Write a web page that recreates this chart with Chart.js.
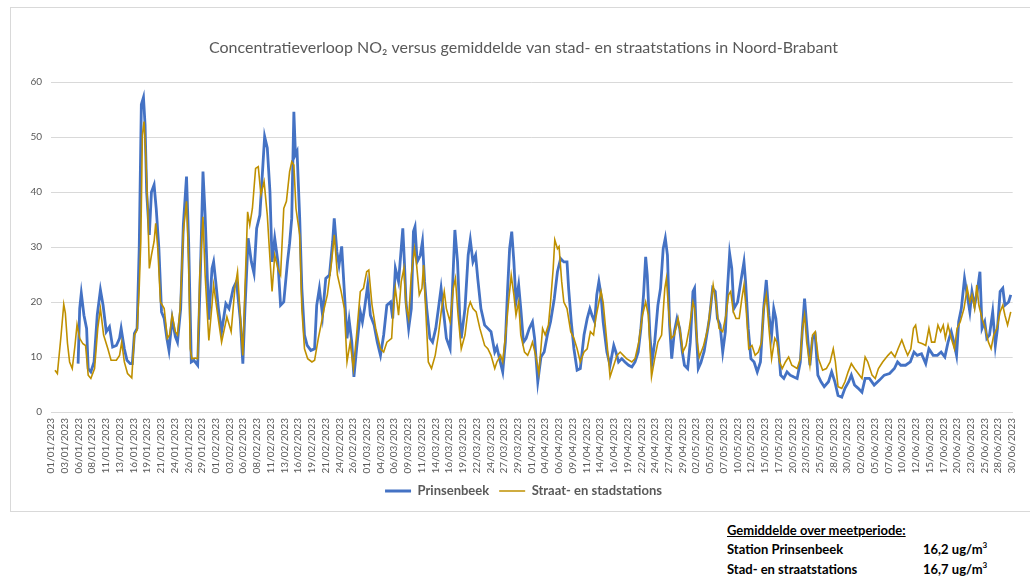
<!DOCTYPE html>
<html lang="nl">
<head>
<meta charset="utf-8">
<title>Concentratieverloop NO2 Noord-Brabant</title>
<script src="https://cdn.jsdelivr.net/npm/chart.js@4.4.1/dist/chart.umd.min.js"></script>
<style>
  html, body { margin: 0; padding: 0; background: #ffffff; }
  body { width: 1030px; height: 577px; position: relative; overflow: hidden; }
  #kader { position: absolute; left: 10px; top: 7px; width: 1030px; height: 505px;
           border: 1px solid #d9d9d9; box-sizing: border-box; }
  #wrap { position: absolute; left: 0; top: 0; width: 1030px; height: 515px; }
  #samenvatting { position: absolute; left: 727px; top: 522px; width: 300px;
                  font-family: Lato, "Open Sans", sans-serif; font-weight: 700;
                  font-size: 13px; color: #000; }
  #samenvatting .rij { position: absolute; left: 0; white-space: nowrap; }
  #samenvatting .waarde { position: absolute; left: 196px; white-space: nowrap; }
  #samenvatting sup { font-size: 8px; vertical-align: 6px; line-height: 0; }
</style>
</head>
<body>
<div id="kader"></div>
<div id="wrap"><canvas id="grafiek" width="1030" height="515"></canvas></div>
<div id="samenvatting">
  <div class="rij" style="top:0px;text-decoration:underline;">Gemiddelde over meetperiode:</div>
  <div class="rij" style="top:19px;">Station Prinsenbeek</div>
  <div class="waarde" style="top:19px;">16,2 ug/m<sup>3</sup></div>
  <div class="rij" style="top:39px;">Stad- en straatstations</div>
  <div class="waarde" style="top:39px;">16,7 ug/m<sup>3</sup></div>
</div>
<script>
// Meetperiode: 01/01/2023 t/m 30/06/2023, tijd in dagen vanaf 1 januari 00:00
const startDatum = Date.UTC(2023, 0, 1);
const labelStapUren = 62;          // datumlabel elke 62 uur
const periodeUren = 181 * 24 - 1;  // laatste uur van 30/06

const titel = "Concentratieverloop NO\u2082 versus gemiddelde van stad- en straatstations in Noord-Brabant";
const reeksNamen = ["Prinsenbeek", "Straat- en stadstations"];

// Station Prinsenbeek (ug/m3)
const prinsenbeekDag = [
  5.1, 5.4, 5.7, 6.2, 6.7, 7.0, 7.5, 8.1, 8.7, 9.3, 9.8, 10.4, 11.0, 11.6, 12.3, 12.9, 13.2, 13.8, 14.3, 14.9,
  15.3, 15.7, 16.2, 16.6, 17.0, 17.4, 17.7, 18.0, 18.5, 18.9, 19.4, 19.8, 20.3, 20.8, 21.3, 21.8, 22.2, 22.8, 23.4, 23.8,
  24.4, 24.9, 25.5, 25.9, 26.4, 26.9, 27.6, 28.1, 28.6, 29.0, 29.7, 30.3, 30.6, 31.0, 31.5, 32.1, 32.9, 33.5, 34.3, 34.9,
  35.6, 36.1, 36.5, 37.1, 37.7, 38.2, 38.7, 39.3, 39.8, 40.2, 40.7, 41.2, 41.6, 42.1, 42.7, 43.2, 43.8, 44.5, 44.9, 45.3,
  45.7, 46.0, 46.3, 46.8, 47.2, 47.7, 48.2, 48.9, 49.6, 50.0, 50.5, 51.1, 51.7, 52.4, 53.0, 53.3, 53.8, 54.2, 54.7, 55.2,
  55.7, 56.1, 56.6, 57.0, 57.5, 58.2, 58.6, 59.0, 59.6, 60.1, 60.8, 61.4, 62.0, 62.6, 63.2, 63.9, 64.3, 64.8, 65.4, 65.7,
  66.2, 66.5, 66.8, 67.3, 67.8, 68.2, 68.5, 68.9, 69.5, 69.9, 70.3, 70.7, 71.3, 71.8, 72.4, 72.9, 73.4, 73.8, 74.4, 75.1,
  75.7, 76.0, 76.5, 76.9, 77.2, 77.9, 78.5, 78.9, 79.4, 79.9, 80.3, 80.9, 81.6, 82.2, 82.8, 83.5, 83.9, 84.4, 85.0, 85.5,
  85.9, 86.3, 86.7, 87.1, 87.5, 88.0, 88.4, 88.9, 89.4, 90.0, 90.6, 91.0, 91.6, 92.2, 92.8, 93.4, 94.0, 94.7, 95.3, 95.9,
  96.5, 97.1, 97.4, 97.9, 98.4, 99.0, 99.6, 100.3, 100.9, 101.4, 101.8, 102.3, 102.7, 103.1, 103.5, 103.9, 104.6, 105.2, 105.9, 106.3,
  106.8, 107.4, 108.0, 108.7, 109.3, 109.9, 110.5, 111.0, 111.5, 111.9, 112.2, 112.7, 113.1, 113.6, 114.2, 114.7, 115.2, 115.6, 116.0, 116.4,
  116.8, 117.3, 117.8, 118.3, 118.8, 119.2, 119.8, 120.3, 120.8, 121.1, 121.4, 121.8, 122.3, 122.9, 123.3, 123.9, 124.5, 125.0, 125.4, 125.9,
  126.4, 126.9, 127.3, 127.7, 128.1, 128.5, 129.2, 129.8, 130.4, 130.7, 131.2, 131.7, 132.3, 132.9, 133.5, 134.1, 134.6, 135.1, 135.6, 136.0,
  136.4, 136.8, 137.3, 137.9, 138.5, 139.1, 139.7, 140.4, 141.0, 141.4, 141.8, 142.2, 142.8, 143.3, 143.8, 144.3, 144.9, 145.5, 146.3, 146.9,
  147.5, 148.1, 148.8, 149.4, 150.1, 150.6, 151.2, 151.9, 152.6, 153.2, 154.0, 154.9, 155.9, 156.8, 157.8, 158.7, 159.3, 159.9, 160.8, 161.7,
  162.4, 163.0, 163.8, 164.6, 165.2, 166.0, 166.8, 167.5, 168.2, 168.8, 169.4, 169.9, 170.4, 170.8, 171.3, 171.9, 172.4, 172.9, 173.3, 173.8,
  174.3, 174.8, 175.2, 175.7, 176.1, 176.6, 177.2, 177.7, 178.1, 178.6, 179.1, 179.5, 180.2, 180.6
];
const prinsenbeekNO2 = [
  8.8, 18.8, 21.6, 17.6, 15.2, 7.9, 7.3, 9.1, 17.6, 22.2, 19.4, 14.6, 15.5, 11.8, 12.1, 13.4, 15.2, 11.5, 9.4, 8.8,
  8.8, 14.3, 15.2, 29.7, 55.9, 57.2, 52.2, 40.0, 32.2, 40.0, 41.3, 37.0, 29.7, 18.2, 17.0, 13.4, 11.2, 17.0, 13.7, 12.7,
  18.8, 34.0, 42.8, 31.0, 9.1, 9.4, 8.5, 24.9, 43.7, 35.8, 16.8, 26.1, 27.3, 23.7, 18.8, 14.6, 19.7, 18.8, 22.5, 23.7,
  17.0, 8.8, 18.8, 31.6, 27.3, 25.2, 33.4, 35.8, 43.7, 50.1, 48.0, 40.1, 27.3, 31.6, 27.3, 19.4, 20.0, 27.3, 30.7, 35.2,
  54.6, 46.8, 47.4, 35.2, 22.5, 14.0, 12.1, 11.2, 11.5, 19.4, 22.5, 17.6, 24.3, 24.9, 31.0, 35.2, 29.1, 26.7, 30.1, 21.9,
  13.4, 16.7, 12.7, 6.4, 11.5, 18.2, 16.4, 18.8, 23.1, 17.6, 15.8, 12.7, 10.3, 14.0, 19.4, 20.0, 17.0, 26.1, 23.7, 27.3,
  33.4, 27.3, 20.0, 15.2, 18.8, 32.8, 33.7, 27.3, 28.5, 31.0, 23.7, 18.8, 13.4, 12.7, 15.2, 18.8, 22.5, 18.8, 13.4, 11.5,
  26.1, 33.1, 27.3, 17.6, 13.4, 18.8, 28.5, 31.3, 27.3, 28.5, 24.3, 18.8, 15.8, 15.2, 14.6, 10.9, 11.8, 9.7, 7.3, 12.7,
  21.9, 29.7, 32.8, 27.3, 20.0, 23.1, 18.8, 12.7, 13.4, 15.2, 16.4, 13.4, 5.5, 10.0, 10.9, 14.0, 16.4, 20.6, 25.5, 27.9,
  27.3, 27.3, 22.5, 16.4, 11.5, 7.6, 7.9, 14.0, 17.0, 18.8, 17.6, 16.4, 21.3, 23.7, 21.3, 16.4, 10.9, 8.5, 12.1, 10.9,
  9.1, 9.7, 9.1, 8.5, 8.2, 9.1, 10.9, 15.2, 21.3, 28.2, 24.9, 14.0, 9.1, 12.7, 19.4, 22.5, 29.7, 31.6, 28.5, 15.8,
  9.7, 14.6, 17.0, 15.2, 10.9, 8.5, 7.9, 12.7, 21.9, 22.5, 15.2, 7.9, 9.0, 11.0, 13.4, 17.0, 22.5, 21.9, 17.0, 15.8,
  10.9, 14.6, 22.5, 28.8, 26.1, 18.8, 20.0, 23.7, 27.3, 23.7, 15.2, 9.7, 9.1, 7.3, 9.1, 18.8, 24.0, 17.6, 14.0, 18.8,
  17.0, 12.7, 6.7, 6.1, 7.3, 6.7, 6.4, 6.1, 9.1, 15.2, 20.6, 15.8, 8.5, 13.4, 14.0, 6.7, 5.5, 4.6, 5.5, 7.3,
  5.5, 3.0, 2.7, 4.3, 5.5, 6.7, 4.9, 4.3, 3.6, 6.1, 6.1, 4.9, 5.8, 6.7, 7.0, 7.9, 9.1, 8.5, 8.5, 9.1,
  10.9, 10.3, 10.6, 8.8, 11.5, 10.3, 10.3, 10.9, 10.0, 12.7, 14.6, 12.7, 10.3, 16.4, 18.8, 24.3, 21.3, 18.2, 21.9, 19.4,
  21.9, 25.5, 15.2, 16.4, 13.4, 14.0, 18.2, 12.1, 15.2, 21.9, 22.5, 19.4, 20.0, 21.3
];

// Gemiddelde van stad- en straatstations (ug/m3)
const straatDag = [
  0.75, 1.2, 1.9, 2.4, 2.7, 3.1, 3.5, 4.0, 4.5, 4.9, 5.4, 6.0, 6.5, 7.0, 7.5, 8.2, 8.8, 9.3, 9.9, 10.7,
  11.3, 12.3, 12.9, 13.3, 13.8, 14.4, 15.2, 15.7, 16.2, 16.6, 16.9, 17.2, 17.5, 17.8, 18.2, 18.5, 18.9, 19.4, 19.7, 20.1,
  20.6, 21.3, 21.9, 22.3, 22.8, 23.4, 23.8, 24.3, 24.9, 25.5, 25.9, 26.2, 26.5, 27.2, 27.6, 28.0, 28.6, 29.0, 29.7, 30.3,
  30.6, 31.2, 32.1, 33.1, 33.9, 34.6, 35.1, 35.6, 36.1, 36.5, 37.0, 37.4, 37.9, 38.5, 39.0, 39.5, 40.1, 40.7, 41.2, 41.6,
  42.1, 42.7, 43.2, 43.8, 44.3, 44.9, 45.3, 45.7, 46.1, 46.8, 47.2, 47.7, 48.3, 49.1, 49.6, 50.3, 50.8, 51.4, 52.0, 52.8,
  53.3, 53.9, 54.6, 55.2, 55.7, 56.3, 56.9, 57.5, 58.2, 58.8, 59.4, 59.8, 60.4, 61.1, 62.0, 62.6, 63.2, 64.1, 64.5, 64.8,
  65.4, 65.9, 66.4, 66.8, 67.3, 67.8, 68.4, 68.8, 69.3, 69.8, 70.1, 70.5, 71.0, 71.6, 72.3, 72.9, 73.5, 74.0, 74.4, 75.1,
  75.7, 76.1, 76.6, 77.2, 77.9, 78.5, 78.9, 79.4, 80.0, 80.7, 81.6, 82.2, 82.8, 83.5, 83.9, 84.6, 85.0, 85.6, 86.1, 86.6,
  87.1, 87.5, 88.0, 88.4, 89.1, 89.7, 90.2, 90.6, 91.2, 91.8, 92.5, 93.0, 93.6, 94.0, 94.5, 94.8, 95.3, 95.6, 96.1, 96.5,
  97.1, 97.8, 98.4, 99.0, 99.6, 100.3, 100.9, 101.5, 102.1, 102.5, 103.1, 103.5, 103.9, 104.6, 105.2, 105.9, 106.5, 107.1, 107.7, 108.3,
  109.3, 109.9, 110.6, 111.3, 111.9, 112.4, 113.0, 113.6, 114.2, 114.9, 115.5, 115.8, 116.2, 116.7, 117.3, 118.0, 118.5, 118.9, 119.5, 120.1,
  120.8, 121.1, 121.6, 122.0, 122.8, 123.6, 124.2, 124.6, 125.1, 125.7, 126.4, 127.0, 127.5, 127.9, 128.4, 128.9, 129.5, 130.0, 130.4, 130.8,
  131.3, 131.9, 132.5, 133.1, 133.7, 134.1, 134.6, 135.1, 135.6, 136.2, 136.6, 137.1, 137.6, 138.2, 138.8, 139.4, 140.4, 141.0, 141.4, 141.8,
  142.2, 142.8, 143.3, 143.8, 144.4, 145.2, 145.9, 146.6, 147.2, 147.6, 148.1, 148.8, 149.4, 150.0, 150.6, 151.2, 151.9, 152.6, 153.2, 153.7,
  154.5, 155.1, 155.7, 156.5, 157.5, 158.1, 158.8, 159.4, 160.1, 160.7, 161.2, 161.8, 162.3, 162.7, 163.2, 164.0, 164.6, 165.2, 165.7, 166.3,
  166.9, 167.4, 167.9, 168.3, 168.8, 169.4, 170.0, 170.5, 171.1, 171.8, 172.4, 172.9, 173.3, 173.8, 174.2, 174.6, 175.2, 175.8, 176.4, 176.9,
  177.4, 178.0, 178.6, 179.1, 179.5, 180.0, 180.6
];
const straatNO2 = [
  7.6, 7.0, 14.0, 19.6, 18.0, 12.5, 9.1, 7.9, 12.0, 15.9, 13.4, 12.4, 12.1, 6.7, 6.1, 7.9, 15.2, 18.8, 14.0, 11.5,
  9.4, 9.4, 10.3, 12.7, 9.1, 7.0, 6.2, 14.0, 14.9, 22.5, 31.0, 50.4, 52.8, 47.4, 37.0, 26.1, 28.5, 31.0, 34.3, 29.7,
  20.0, 18.8, 13.4, 14.0, 17.6, 14.6, 14.0, 18.8, 32.8, 38.3, 27.3, 11.5, 9.7, 9.8, 9.7, 24.9, 35.5, 24.9, 13.0, 19.5,
  23.1, 18.8, 12.7, 17.3, 14.6, 22.5, 25.5, 17.6, 10.3, 22.5, 36.4, 34.0, 37.0, 44.3, 44.6, 39.5, 41.9, 35.8, 27.9, 21.9,
  28.5, 26.1, 24.9, 37.0, 38.3, 43.7, 45.5, 44.9, 37.0, 32.2, 18.8, 11.5, 9.7, 9.1, 9.4, 13.4, 15.8, 18.8, 21.3, 27.3,
  32.2, 24.9, 21.9, 18.8, 9.1, 12.7, 7.9, 14.0, 21.9, 22.5, 25.5, 25.8, 19.5, 15.2, 11.5, 10.9, 12.7, 13.4, 20.0, 22.5,
  17.6, 23.7, 26.1, 19.4, 17.0, 24.9, 29.7, 26.7, 21.3, 22.5, 26.7, 18.8, 9.1, 7.9, 10.3, 14.0, 18.8, 21.9, 18.8, 16.4,
  22.5, 24.3, 17.6, 11.5, 14.0, 18.8, 20.0, 18.8, 18.2, 15.2, 12.1, 11.5, 10.3, 7.9, 9.1, 10.3, 9.1, 14.6, 20.0, 24.9,
  21.3, 17.6, 20.0, 14.0, 10.9, 10.3, 11.5, 12.7, 10.3, 7.0, 15.2, 14.0, 15.8, 20.0, 26.1, 31.3, 29.7, 30.1, 23.7, 20.0,
  18.8, 14.6, 13.4, 11.5, 9.1, 10.9, 11.5, 14.6, 14.0, 17.0, 20.0, 21.9, 20.0, 12.7, 6.4, 8.5, 10.3, 10.9, 10.3, 9.7,
  9.1, 9.7, 12.7, 17.6, 20.0, 17.6, 6.4, 9.7, 12.7, 14.0, 22.5, 24.3, 18.8, 13.4, 14.0, 17.0, 14.0, 10.9, 12.1, 15.2,
  20.0, 18.8, 12.7, 10.0, 12.1, 15.2, 20.0, 23.1, 20.0, 15.2, 14.6, 17.6, 21.3, 21.9, 18.2, 17.0, 17.0, 20.6, 23.1, 18.8,
  11.5, 12.1, 10.3, 10.9, 12.7, 18.8, 21.3, 15.2, 9.7, 13.4, 12.7, 9.1, 7.9, 9.1, 10.0, 8.5, 7.9, 9.7, 15.2, 17.6,
  12.7, 8.5, 14.0, 14.6, 9.7, 7.6, 7.9, 9.1, 11.5, 9.1, 4.6, 4.3, 5.5, 7.3, 8.8, 7.9, 7.0, 6.1, 10.0, 9.1,
  6.7, 6.1, 7.9, 9.1, 10.3, 10.9, 10.0, 11.5, 13.1, 11.5, 10.3, 11.5, 15.2, 15.8, 12.7, 12.4, 12.1, 15.2, 12.7, 12.7,
  15.8, 14.6, 15.8, 13.4, 15.8, 13.4, 11.5, 15.2, 16.4, 18.8, 22.5, 20.0, 21.3, 18.8, 23.1, 19.4, 17.0, 15.2, 12.7, 11.5,
  14.0, 15.2, 18.2, 19.4, 17.6, 15.8, 18.2
];

// Y-as
const yMin = 0, yMax = 60, yStap = 10;

const tekstGrijs = "#595959";
const rasterGrijs = "#d9d9d9";

function naarPunten(dagen, waarden) {
  return dagen.map((d, i) => ({ x: d * 24, y: waarden[i] }));
}

function datumLabel(uur) {
  const d = new Date(startDatum + uur * 3600 * 1000);
  const dd = String(d.getUTCDate()).padStart(2, "0");
  const mm = String(d.getUTCMonth() + 1).padStart(2, "0");
  return dd + "/" + mm + "/" + d.getUTCFullYear();
}

const ctx = document.getElementById("grafiek");
new Chart(ctx, {
  type: "line",
  data: {
    datasets: [
      {
        label: reeksNamen[0],
        data: naarPunten(prinsenbeekDag, prinsenbeekNO2),
        borderColor: "#4472c4",
        backgroundColor: "#4472c4",
        borderWidth: 2.8,
        pointRadius: 0,
        tension: 0,
        order: 2
      },
      {
        label: reeksNamen[1],
        data: naarPunten(straatDag, straatNO2),
        borderColor: "#bf9000",
        backgroundColor: "#bf9000",
        borderWidth: 1.6,
        pointRadius: 0,
        tension: 0,
        order: 1
      }
    ]
  },
  options: {
    responsive: false,
    animation: false,
    devicePixelRatio: 1,
    layout: { padding: { left: 26, right: 9, top: 0, bottom: 7.5 } },
    plugins: {
      title: {
        display: true,
        text: titel,
        color: tekstGrijs,
        font: { family: "Lato, 'Open Sans', sans-serif", size: 16, weight: "normal", lineHeight: 1.2 },
        padding: { top: 38, bottom: 24.8 }
      },
      legend: {
        display: true,
        position: "bottom",
        labels: {
          color: tekstGrijs,
          font: { family: "Lato, 'Open Sans', sans-serif", size: 13, weight: "bold" },
          usePointStyle: true,
          pointStyle: "line",
          pointStyleWidth: 26,
          boxHeight: 11,
          padding: 10,
          sort: (a, b) => a.datasetIndex - b.datasetIndex
        }
      },
      tooltip: { enabled: false }
    },
    scales: {
      x: {
        type: "linear",
        min: 0,
        max: periodeUren,
        grid: { display: false, drawTicks: false },
        border: { display: true, color: rasterGrijs, width: 1 },
        afterBuildTicks: (schaal) => {
          const t = [];
          for (let u = 0; u <= periodeUren; u += labelStapUren) t.push({ value: u });
          schaal.ticks = t;
        },
        afterFit: (schaal) => { schaal.height = 62.5; },
        ticks: {
          autoSkip: false,
          minRotation: 90,
          maxRotation: 90,
          padding: 6,
          color: tekstGrijs,
          font: { family: "Lato, 'Open Sans', sans-serif", size: 10 },
          callback: (v) => datumLabel(v)
        }
      },
      y: {
        min: yMin,
        max: yMax,
        grid: { color: rasterGrijs, lineWidth: 1, drawTicks: false },
        border: { display: false },
        afterFit: (schaal) => { schaal.width = 25; },
        ticks: {
          stepSize: yStap,
          padding: 9,
          color: tekstGrijs,
          font: { family: "Lato, 'Open Sans', sans-serif", size: 10 }
        }
      }
    }
  }
});
</script>
</body>
</html>
